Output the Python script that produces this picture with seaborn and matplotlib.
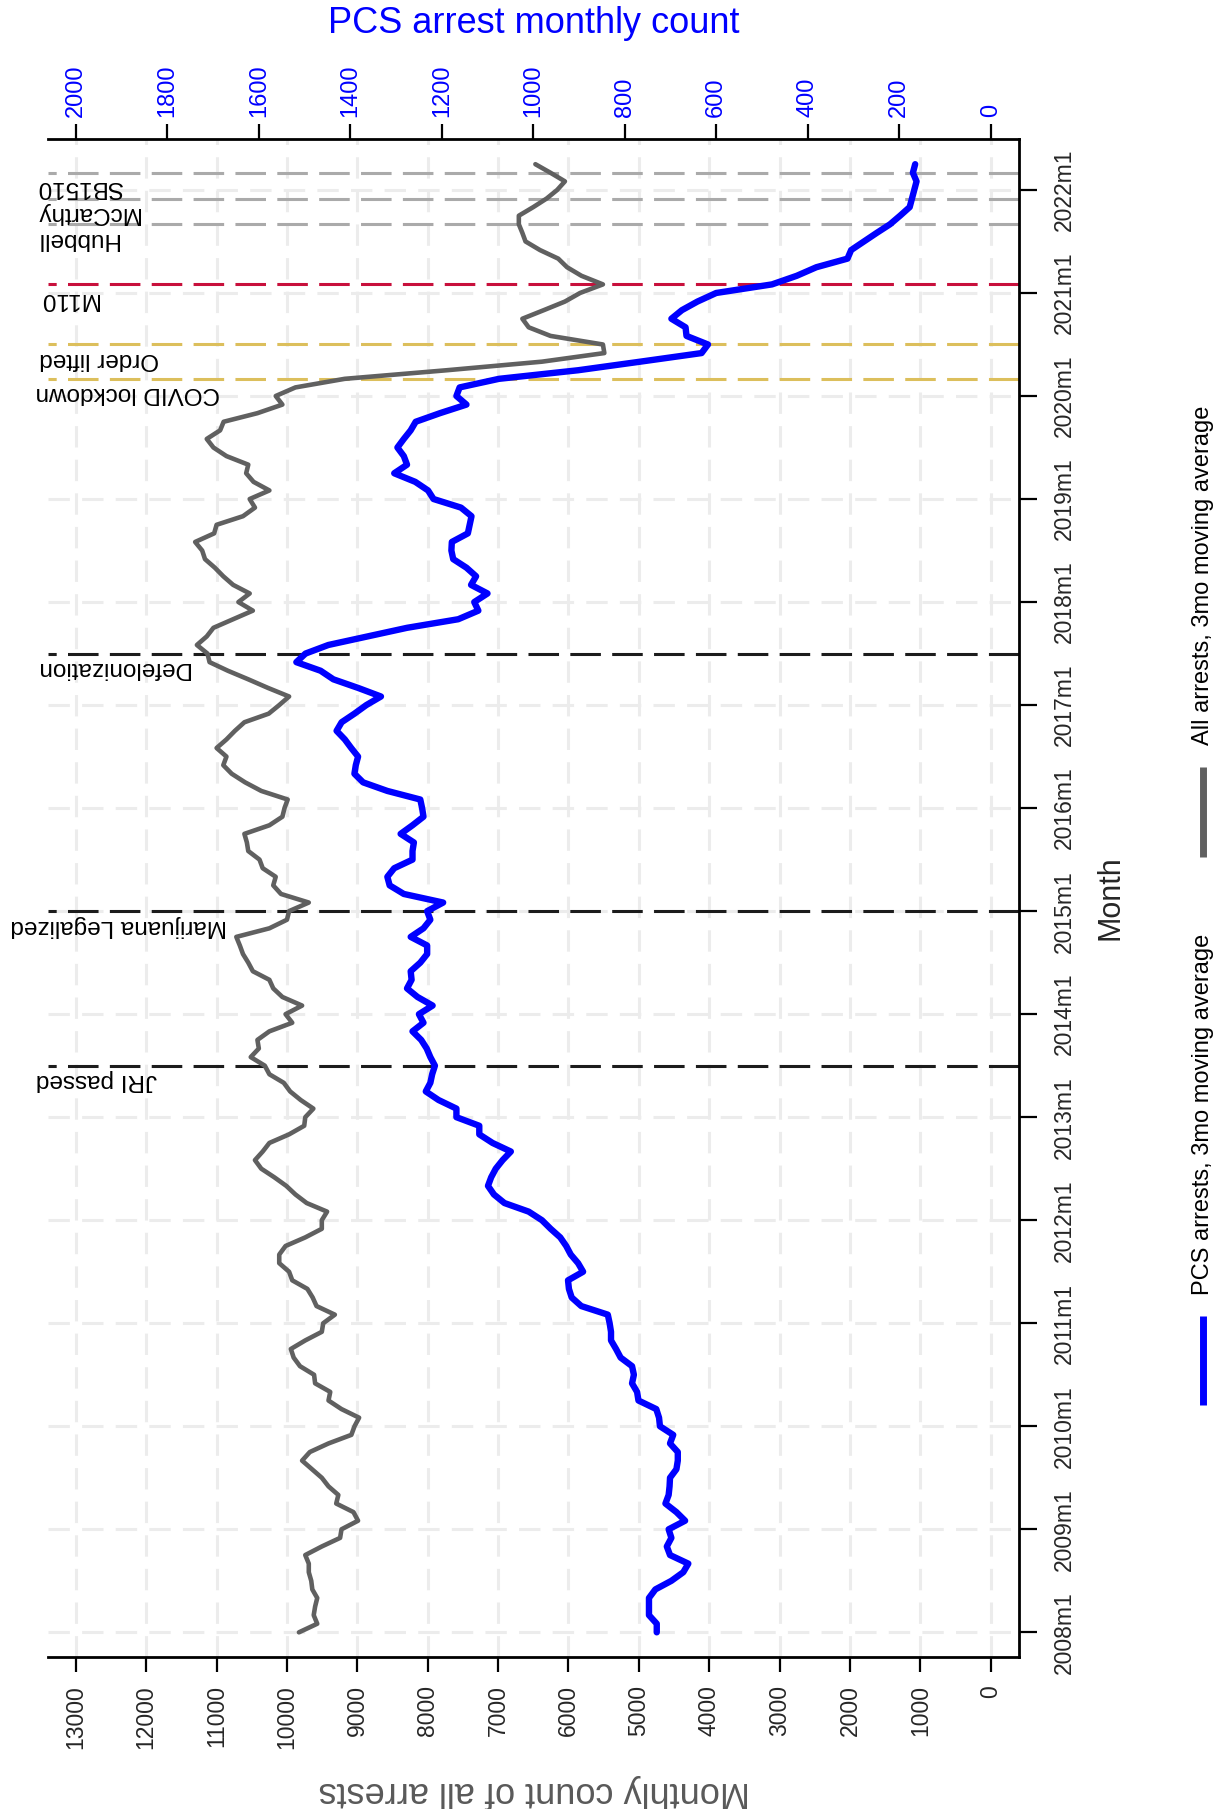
import matplotlib
matplotlib.use("Agg")
import matplotlib.pyplot as plt
from matplotlib import font_manager as fm
from matplotlib.lines import Line2D
import seaborn as sns
import numpy as np

sns.set_style("white")
plt.rcParams['font.family'] = ['Liberation Sans', 'DejaVu Sans']

# month index: 0 = 2008m1 ... 171 = 2022m4
months = np.arange(172)

# all arrests, 3mo moving average
all_arrests = [
    9830, 9570, 9620, 9600, 9570, 9640, 9655, 9690, 9690, 9740, 9505, 9245,
    9225, 8990, 9055, 9300, 9270, 9410, 9505, 9645, 9785, 9675, 9410, 9085,
    9040, 8975, 9225, 9410, 9385, 9600, 9615, 9815, 9905, 9945, 9740, 9505,
    9485, 9320, 9580, 9635, 9710, 9925, 9970, 10110, 10110, 10020, 9740, 9505,
    9505, 9430, 9720, 9880, 10010, 10180, 10365, 10455, 10345, 10250, 9970, 9755,
    9740, 9625, 9805, 9955, 10045, 10250, 10315, 10515, 10400, 10420, 10250, 9925,
    10020, 9785, 10065, 10195, 10250, 10485, 10550, 10625, 10670, 10720, 10250, 10000,
    9970, 9690, 10085, 10195, 10160, 10345, 10390, 10550, 10570, 10605, 10250, 10065,
    10035, 9990, 10365, 10595, 10785, 10905, 10860, 11000, 10860, 10740, 10605, 10260,
    10110, 9970, 10270, 10550, 10840, 11100, 11130, 11280, 11140, 11045, 10765, 10485,
    10690, 10530, 10765, 10905, 11025, 11165, 11205, 11305, 11035, 11000, 10625, 10455,
    10530, 10250, 10475, 10580, 10550, 10860, 11045, 11140, 10950, 10900, 10420, 10065,
    10160, 9880, 9180, 7730, 6375, 5490, 5510, 6255, 6565, 6655, 6350, 6050,
    5835, 5510, 5815, 6020, 6145, 6405, 6610, 6655, 6705, 6705, 6500, 6310,
    6160, 6050, 6255, 6470,
]

# PCS arrests, 3mo moving average
pcs_arrests = [
    730, 730, 747, 747, 747, 733, 698, 672, 661, 701, 708, 698,
    704, 668, 687, 711, 704, 702, 701, 687, 684, 684, 701, 694,
    723, 725, 731, 770, 773, 784, 780, 784, 809, 819, 830, 830,
    833, 837, 895, 916, 922, 924, 891, 902, 918, 928, 941, 962,
    981, 1010, 1063, 1086, 1099, 1092, 1082, 1067, 1049, 1089, 1118, 1118,
    1168, 1168, 1207, 1235, 1225, 1221, 1215, 1225, 1233, 1245, 1264, 1240,
    1250, 1220, 1253, 1276, 1266, 1268, 1247, 1232, 1232, 1268, 1240, 1225,
    1232, 1197, 1283, 1314, 1319, 1304, 1264, 1264, 1261, 1290, 1264, 1240,
    1243, 1247, 1319, 1372, 1391, 1388, 1383, 1398, 1412, 1430, 1419, 1391,
    1365, 1333, 1383, 1437, 1465, 1518, 1498, 1448, 1362, 1276, 1164, 1120,
    1129, 1100, 1136, 1125, 1146, 1175, 1179, 1178, 1143, 1139, 1135, 1158,
    1218, 1230, 1258, 1304, 1276, 1283, 1297, 1283, 1268, 1257, 1204, 1146,
    1168, 1161, 1075, 902, 766, 632, 618, 665, 667, 698, 675, 641,
    600, 478, 424, 381, 313, 305, 277, 249, 220, 198, 177, 172,
    167, 162, 170, 165,
]

year_ticks = list(range(0, 169, 12))
year_labels = [f"{2008 + i}m1" for i in range(len(year_ticks))]
all_ticks = list(range(0, 13001, 1000))
pcs_ticks = list(range(0, 2001, 200))

event_labels = ["JRI passed", "Marijuana Legalized", "Defelonization",
                "COVID lockdown", "Order lifted", "M110",
                "Hubbell", "McCarthy", "SB1510"]
event_months = [66, 84, 114, 146, 150, 157, 164, 167, 170]

# styling
event_colors = ['#1c1c1c'] * 3 + ['#dcbf5c'] * 2 + ['#c8103c'] + ['#aaaaaa'] * 3
label_left = [13570, 13930, 13570, 13570, 13520, 13520, 13570, 13570, 13570]
XL = (13390, -410)      # all-arrests axis, inverted
SCALE = 6.5             # all-arrests units per PCS unit
YL = (-2.9, 173.9)
dash = (0, (10, 3.7))

# narrow face for the month labels if there is one
try:
    fm.findfont(fm.FontProperties(family='Liberation Sans Narrow'),
                fallback_to_default=False)
    month_font, month_size = 'Liberation Sans Narrow', 19.5
except ValueError:
    month_font, month_size = 'Liberation Sans', 16.5

fig = plt.figure(figsize=(12.23, 18.09), dpi=100)
ax = fig.add_axes([0.0396, 0.0839, 0.7940, 0.8391])
ax2 = ax.twiny()

# grid
ax.set_axisbelow(True)
ax.grid(True, axis='both', color='#ececec', lw=2.2, linestyle=(0, (7, 4)))

# event lines
for m, c in zip(event_months, event_colors):
    ax.plot([XL[1], XL[0]], [m, m], color=c, lw=2.2, linestyle=dash, zorder=1.8)

sns.lineplot(x=all_arrests, y=months, sort=False, estimator=None,
             color='#606060', lw=3.3, ax=ax, zorder=2)
sns.lineplot(x=pcs_arrests, y=months, sort=False, estimator=None,
             color='#0000ff', lw=4.6, ax=ax2, zorder=3)

for lab, m, xl in zip(event_labels, event_months, label_left):
    ax.text(xl, m - 0.4, lab, rotation=180, ha='left', va='top',
            fontsize=17.5, color='black', clip_on=False)

ax.set_xlim(*XL)
ax2.set_xlim(XL[0] / SCALE, XL[1] / SCALE)
ax.set_ylim(*YL)

ax.set_xticks(all_ticks)
ax.set_xticklabels([str(t) for t in all_ticks])
ax2.set_xticks(pcs_ticks)
ax2.set_xticklabels([str(t) for t in pcs_ticks])
ax.set_yticks(year_ticks)
ax.set_yticklabels(year_labels)

ax.tick_params(axis='x', bottom=True, top=False, direction='out', length=11,
               width=1.6, labelsize=16.5, labelrotation=90, pad=9, color='black')
ax.tick_params(axis='y', left=False, right=True, labelleft=False, labelright=True,
               direction='out', length=13, width=1.6, labelsize=month_size,
               labelrotation=90, pad=11, color='black')
ax2.tick_params(axis='x', top=True, direction='out', length=11, width=1.6,
                labelsize=17, labelrotation=90, labelcolor='#0000ff', pad=5,
                color='black')
for t in ax.get_yticklabels():
    t.set_va('center')
    t.set_fontfamily([month_font, 'DejaVu Sans'])

ax.spines['left'].set_visible(False)
ax.spines['top'].set_visible(False)
for s in ['bottom', 'right']:
    ax.spines[s].set_linewidth(2)
    ax.spines[s].set_color('black')
for s in ['left', 'right', 'bottom']:
    ax2.spines[s].set_visible(False)
ax2.spines['top'].set_linewidth(2)
ax2.spines['top'].set_color('black')

ax.set_xlabel("Monthly count of all arrests", fontsize=26, color='#595959',
              rotation=180)
ax.xaxis.set_label_coords(0.5, -0.0887)
ax.xaxis.label.set_va('center')

ax2.set_xlabel("PCS arrest monthly count", fontsize=26, color='#0000ff')
ax2.xaxis.set_label_position('top')
ax2.xaxis.set_label_coords(0.4995, 1.0762)
ax2.xaxis.label.set_va('center')

ax.yaxis.set_label_position('right')
ax.set_ylabel("Month", fontsize=22, rotation=90)
ax.yaxis.set_label_coords(1.0942, 0.5002)
ax.yaxis.label.set_ha('center')
ax.yaxis.label.set_va('center')

# legend, drawn rotated like the rest of the chart
W, H = 1223.0, 1809.0
legend_items = [("PCS arrests, 3mo moving average", '#0000ff', 1405, 1316, 1295),
                ("All arrests, 3mo moving average", '#606060', 857, 767, 745)]
for text, col, y0, y1, ty in legend_items:
    fig.add_artist(Line2D([1202.5 / W, 1202.5 / W], [1 - y0 / H, 1 - y1 / H],
                          transform=fig.transFigure, color=col, lw=5,
                          solid_capstyle='butt'))
    fig.text(1203 / W, 1 - ty / H, text, rotation=90, ha='center', va='bottom',
             fontsize=17, color='black')

fig.savefig("out.png", dpi=100, facecolor='white')
